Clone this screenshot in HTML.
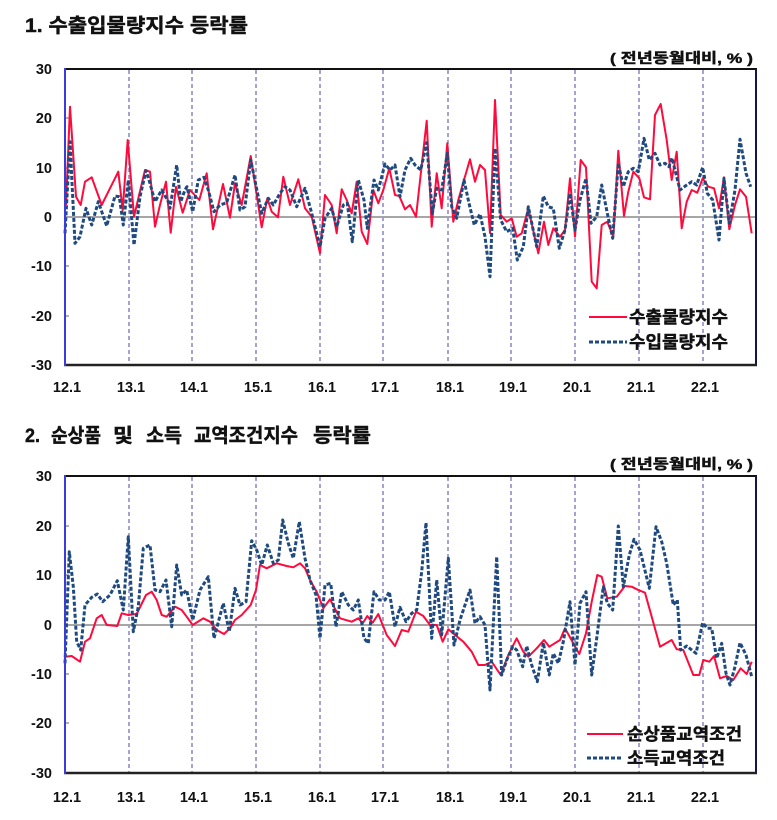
<!DOCTYPE html>
<html><head><meta charset="utf-8">
<style>
html,body{margin:0;padding:0;background:#fff;}
svg{display:block;}
text{font-family:"Liberation Sans","Noto Sans CJK KR",sans-serif;font-weight:bold;fill:#111;}
.kr{font-family:"Liberation Sans","Noto Sans CJK KR",sans-serif;stroke:#111;stroke-width:0.45;}
.yl{font-size:14.5px;text-anchor:end;}
.xl{font-size:14.5px;text-anchor:middle;}
.grid{stroke:#8585c4;stroke-width:1.5;stroke-dasharray:4 3;}
.red{fill:none;stroke:#ff0a3c;stroke-width:2;stroke-linejoin:round;}
.blue{fill:none;stroke:#1f4a7f;stroke-width:3;stroke-dasharray:4 2;stroke-linejoin:round;}
</style></head><body>
<svg width="777" height="820" viewBox="0 0 777 820" xmlns="http://www.w3.org/2000/svg">
<!-- Titles -->
<text class="kr" x="25" y="32" font-size="19.5" textLength="223" lengthAdjust="spacingAndGlyphs">1. 수출입물량지수 등락률</text>
<text class="kr" x="610" y="63" font-size="14" stroke-width="0.3" textLength="143" lengthAdjust="spacingAndGlyphs">( 전년동월대비, % )</text>

<!-- Chart 1 -->
<g>
<line class="grid" x1="129" y1="70" x2="129" y2="364"/>
<line class="grid" x1="192" y1="70" x2="192" y2="364"/>
<line class="grid" x1="256" y1="70" x2="256" y2="364"/>
<line class="grid" x1="320" y1="70" x2="320" y2="364"/>
<line class="grid" x1="383" y1="70" x2="383" y2="364"/>
<line class="grid" x1="448" y1="70" x2="448" y2="364"/>
<line class="grid" x1="511" y1="70" x2="511" y2="364"/>
<line class="grid" x1="575" y1="70" x2="575" y2="364"/>
<line class="grid" x1="639" y1="70" x2="639" y2="364"/>
<line class="grid" x1="703" y1="70" x2="703" y2="364"/>
<line x1="65" y1="217" x2="756" y2="217" stroke="#a6a6a6" stroke-width="2"/>
<g stroke="#666" stroke-width="1">
<line x1="65" y1="118" x2="69" y2="118"/><line x1="65" y1="168" x2="69" y2="168"/>
<line x1="65" y1="266" x2="69" y2="266"/><line x1="65" y1="316" x2="69" y2="316"/>
</g>
<polyline class="red" points="66,205 70,106.7 76,196.7 80.7,205 85,181.7 91.7,177.3 101.7,205 110,188.3 118.3,171.7 122.7,210 127.7,140 134,216.7 145,170 150,171.7 155,226.7 160,205 166,181.7 170.7,232.7 176,186.7 182.7,212.7 190,190 199.3,200 206.7,173.3 213,229.3 223,184 230,217.7 235,183.3 241.7,205 250.7,156 261.7,227.3 267.3,198.3 271.7,211.7 278,217.3 283.3,176.7 290,205 298.3,179.3 305,208.3 311.7,216.7 320,253.3 325,195 331.7,205 336.7,233.3 341.7,189.3 346.7,200 351.7,213.3 356.7,181.7 361.7,231.7 367.3,244 373.3,190 378.3,203.3 383.3,190 389.3,168.3 395,195 399.3,196 405,209.3 410,205 416,216.7 426.7,120.7 431.7,226.7 436.7,173.3 441.7,208.3 447.3,143.3 453.3,221.7 458.3,200 464,180 470,159.3 475,181.7 480,165 485,170 490,233 495,100 500.7,215 506.7,221.7 511.7,218.3 516.7,236.7 521.7,233.3 528.3,208.3 538.3,253.3 544,221.7 548.3,245 553.3,228.3 560,236.7 565,230 570,178.3 575,236.7 580.7,160 586,167.3 591.7,281.7 596.7,288.3 601.7,225 607.3,221.7 613.3,236.7 618.3,150.7 624,216 628.3,191.7 633.3,171.7 639.3,178.3 644,197.3 650,199.3 655,115 660.7,104 666.7,140 671.7,180 676.7,151.7 681.7,228.3 686.7,201.7 691.7,190 697.3,192.7 702.7,178.3 708.3,186.7 714,188.3 719,208.3 724,177.3 729.3,229.3 735,205 740,189.3 746,196.7 751.7,233.3"/>
<polyline class="blue" points="65,233.3 70,141.7 75,243.3 80,236.7 86,208.3 91.7,225 98.3,201.7 106.7,226 115,196 119.3,196.7 123.3,225 128.3,180 134,245 140,196.7 146,170.7 150,183.3 155,201.7 161.7,190 168.3,201.7 170,208.3 176.7,165 180.7,201.7 185,190 187,186.7 192.7,211.7 198.3,180 204,177.3 208.3,190 214,211.7 220,205 226.7,202.7 235,175 240,210 245,206.7 250.7,160 261.7,213.3 268.3,198.3 273.3,205 280,193.3 285,186.7 290,190 296.7,206.7 305,188.3 311.7,213.3 320,246.7 325,218.3 331.7,208.3 336.7,226.7 343.3,205 347.3,203.3 352.3,241.7 358.3,180 364,200 367.3,228.3 374,180 378.3,190 385,164 390,170 395,165 400,196.7 405,170 410.7,158.3 415,165 420.7,170 426.7,142.7 432.3,213.3 436.7,188.3 441.7,190 447.3,153.3 451.7,206.7 456.7,218.3 464,180 469,203.3 474.3,225 480,214 485,236.7 490,276.7 495,148.3 500.7,220 506.7,231.7 512.7,228.3 517.3,260 523.3,246.7 528.3,206.7 536.7,246.7 543.3,196 548.3,206.7 553.3,208.3 559.3,248.3 565,230 570,193.3 575,230 580,200 586,178.3 591,223.3 596.7,216.7 601.7,185 607.3,213.3 612.7,238.3 618.3,163.3 623.3,186.7 628.3,171.7 633.3,168.3 638.3,171.7 644,138.3 649.3,160 655,153.3 660,165 665,163.3 669,166.7 672,158 680,190 686.7,185 691.7,181.7 696.7,185 702.7,167.3 707.3,193.3 712.7,200 719,240 724,178.3 729.3,223.3 735,190 740,139.3 746,173.3 750.7,186.7"/>
<line x1="64" y1="69" x2="757" y2="69" stroke="#111" stroke-width="2"/>
<line x1="756" y1="69" x2="756" y2="366" stroke="#141450" stroke-width="2"/>
<line x1="64" y1="365" x2="757" y2="365" stroke="#222" stroke-width="2.5"/>
<line x1="65" y1="68" x2="65" y2="366" stroke="#3c3cdc" stroke-width="2"/>
<text class="yl" x="52" y="74">30</text>
<text class="yl" x="52" y="123">20</text>
<text class="yl" x="52" y="173">10</text>
<text class="yl" x="52" y="222">0</text>
<text class="yl" x="52" y="271">-10</text>
<text class="yl" x="52" y="321">-20</text>
<text class="yl" x="52" y="370">-30</text>
<text class="xl" x="67" y="392">12.1</text>
<text class="xl" x="131" y="392">13.1</text>
<text class="xl" x="194" y="392">14.1</text>
<text class="xl" x="258" y="392">15.1</text>
<text class="xl" x="322" y="392">16.1</text>
<text class="xl" x="385" y="392">17.1</text>
<text class="xl" x="450" y="392">18.1</text>
<text class="xl" x="513" y="392">19.1</text>
<text class="xl" x="577" y="392">20.1</text>
<text class="xl" x="641" y="392">21.1</text>
<text class="xl" x="705" y="392">22.1</text>
<line x1="589" y1="317" x2="627" y2="317" stroke="#ff0a3c" stroke-width="2"/>
<line x1="589" y1="342" x2="627" y2="342" class="blue"/>
<text class="kr" x="629" y="323" font-size="17" stroke-width="0.35" textLength="99" lengthAdjust="spacingAndGlyphs">수출물량지수</text>
<text class="kr" x="629" y="348" font-size="17" stroke-width="0.35" textLength="99" lengthAdjust="spacingAndGlyphs">수입물량지수</text>
</g>

<!-- Chart 2 -->
<g font-size="19.5">
<text class="kr" x="25" y="442" textLength="15" lengthAdjust="spacingAndGlyphs">2.</text>
<text class="kr" x="51" y="442" textLength="50" lengthAdjust="spacingAndGlyphs">순상품</text>
<text class="kr" x="113" y="442" textLength="20" lengthAdjust="spacingAndGlyphs">및</text>
<text class="kr" x="146" y="442" textLength="36" lengthAdjust="spacingAndGlyphs">소득</text>
<text class="kr" x="194" y="442" textLength="104" lengthAdjust="spacingAndGlyphs">교역조건지수</text>
<text class="kr" x="313" y="442" textLength="58" lengthAdjust="spacingAndGlyphs">등락률</text>
</g>
<text class="kr" x="610" y="469" font-size="14" stroke-width="0.3" textLength="143" lengthAdjust="spacingAndGlyphs">( 전년동월대비, % )</text>
<g>
<line class="grid" x1="129" y1="477" x2="129" y2="772"/>
<line class="grid" x1="192" y1="477" x2="192" y2="772"/>
<line class="grid" x1="256" y1="477" x2="256" y2="772"/>
<line class="grid" x1="320" y1="477" x2="320" y2="772"/>
<line class="grid" x1="383" y1="477" x2="383" y2="772"/>
<line class="grid" x1="448" y1="477" x2="448" y2="772"/>
<line class="grid" x1="511" y1="477" x2="511" y2="772"/>
<line class="grid" x1="575" y1="477" x2="575" y2="772"/>
<line class="grid" x1="639" y1="477" x2="639" y2="772"/>
<line class="grid" x1="703" y1="477" x2="703" y2="772"/>
<line x1="65" y1="625" x2="756" y2="625" stroke="#a6a6a6" stroke-width="2"/>
<g stroke="#666" stroke-width="1">
<line x1="65" y1="526" x2="69" y2="526"/><line x1="65" y1="575" x2="69" y2="575"/>
<line x1="65" y1="674" x2="69" y2="674"/><line x1="65" y1="723" x2="69" y2="723"/>
</g>
<polyline class="red" points="65,656.7 71.7,656 80,661.7 85,641.7 90,638.3 96.7,618.3 101.7,615 106.7,625 117.3,626 121.7,613.3 128.3,615 136.7,614 146,595 151.7,591.7 156.7,600 161.7,615 166.7,616.7 175,606.7 181.7,610 186.7,616.7 192.7,625 203.3,618.3 210,621.7 216.7,630 224,634 230,628.3 235,620 241.7,615 250.7,605 256,590 260,565 266.7,568.3 276.7,563.3 286.7,566 293.3,567.3 300,563.3 305,568.3 310,580 316.7,591.7 323.3,608.3 330,599.3 340,618.3 351.7,621.7 358.3,618.3 362.7,623.3 367.3,616 372.7,622.7 378.3,614 386.7,635 395,646 401.7,630 408.3,631.7 416,611.7 423.3,616 430,625 436.7,625 442.7,641.7 448.3,629.3 455,635 463.3,641.7 471.7,651.7 478.3,665 485,665 491.7,661.7 500.7,675 508.3,655 516.7,638.3 523.3,651.7 528.3,656.7 536.7,648.3 544,640 549.3,646.7 560,640 565,628.3 573.3,643.3 579.3,654 586,633.3 591.7,601.7 597.3,575 601.7,576.7 607.3,598.3 616.7,596.7 625,586 631.7,586.7 638.3,590 645,592.7 651.7,616.7 660,646.7 671.7,640 676.7,649.3 683.3,650 693.3,675 699.3,675 703.3,660 709.3,661.7 714,656 720,678.3 726.7,676 733.3,680 740.7,668.3 746.7,674 751.7,661.7"/>
<polyline class="blue" points="65,663.3 69.3,551.7 73.3,586.7 76.7,641.7 80.7,650 85,605 91.7,597.3 97.3,594 102.7,601.7 110,595 117.3,580.7 123.3,610 128.3,536.7 133.3,631.7 138.3,606.7 143.3,548.3 150,545 155,590 160,591.7 166,580 171.7,626.7 176.7,565 181.7,595 186.7,590 192.7,620 200,590 208.3,576.7 214,638.3 223.3,603.3 229.3,631.7 235,588.3 240,605 246,601.7 251.7,540.7 256.7,550 261.7,565 267.3,545 273.3,563.3 278.3,560 282.7,520 288.3,543.3 293.3,558.3 299.3,521.7 305,558.3 310,580 316,595 320,638.3 325,585 330.7,583.3 336,626.7 341.7,591.7 348.3,605 353.3,610 358.3,600 364,638.3 368.3,643.3 374,591.7 379.3,600 385,600 389.3,591.7 395,626.7 400,607.3 406,621.7 411.7,613.3 416.7,610 421.7,571.7 426,522.7 431.7,638.3 436.7,580 441.7,635 448.3,558.3 454,645 460,620 470,590 475,623.3 480,616.7 485,625 490,690 496.7,556.7 501.7,675 506.7,660 512.7,646.7 516.7,650 522.7,666.7 526.7,646 531.7,665 537.3,681.7 543.3,642.7 549.3,675 553.3,653.3 558.3,663.3 563.3,641.7 570,601.7 575,665 580,603.3 586,591.7 591.7,675 596.7,638.3 603.3,586.7 607.3,603.3 612.7,610 618.3,526 623.3,586.7 629.3,555 634,539.3 640,550 649.3,588.3 656,526.7 661.7,541.7 666.7,563.3 673.3,605 677.3,600 680.7,650 686.7,646 696,653.3 702.7,622.7 707.3,628.3 711.7,628.3 716.7,658.3 721.7,643.3 726,673.3 730,685 735,666.7 740,642.7 746,655 751.7,676.7"/>
<line x1="64" y1="476" x2="757" y2="476" stroke="#111" stroke-width="2"/>
<line x1="756" y1="476" x2="756" y2="774" stroke="#141450" stroke-width="2"/>
<line x1="64" y1="773" x2="757" y2="773" stroke="#222" stroke-width="2.5"/>
<line x1="65" y1="475" x2="65" y2="774" stroke="#3c3cdc" stroke-width="2"/>
<text class="yl" x="52" y="481">30</text>
<text class="yl" x="52" y="531">20</text>
<text class="yl" x="52" y="580">10</text>
<text class="yl" x="52" y="630">0</text>
<text class="yl" x="52" y="679">-10</text>
<text class="yl" x="52" y="728">-20</text>
<text class="yl" x="52" y="778">-30</text>
<text class="xl" x="67" y="802">12.1</text>
<text class="xl" x="131" y="802">13.1</text>
<text class="xl" x="194" y="802">14.1</text>
<text class="xl" x="258" y="802">15.1</text>
<text class="xl" x="322" y="802">16.1</text>
<text class="xl" x="385" y="802">17.1</text>
<text class="xl" x="450" y="802">18.1</text>
<text class="xl" x="513" y="802">19.1</text>
<text class="xl" x="577" y="802">20.1</text>
<text class="xl" x="641" y="802">21.1</text>
<text class="xl" x="705" y="802">22.1</text>
<line x1="587" y1="734" x2="623" y2="734" stroke="#ff0a3c" stroke-width="2"/>
<line x1="587" y1="758" x2="623" y2="758" class="blue"/>
<text class="kr" x="627" y="740" font-size="17" stroke-width="0.35" textLength="115" lengthAdjust="spacingAndGlyphs">순상품교역조건</text>
<text class="kr" x="627" y="764" font-size="17" stroke-width="0.35" textLength="98" lengthAdjust="spacingAndGlyphs">소득교역조건</text>
</g>
</svg>
</body></html>
